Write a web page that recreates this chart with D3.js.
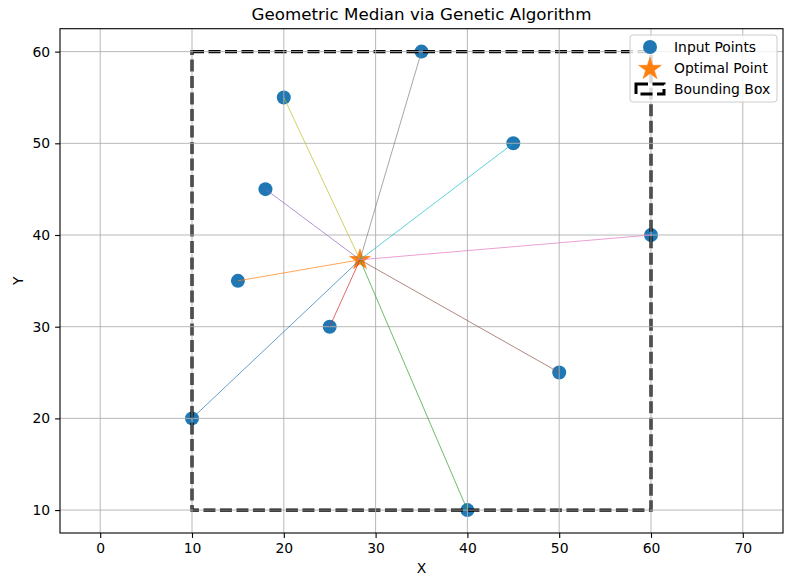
<!DOCTYPE html>
<html>
<head>
<meta charset="utf-8">
<script src="https://cdn.jsdelivr.net/npm/d3@7"></script>
<style>
body{margin:0;background:#fff;}
text{font-family:"DejaVu Sans",sans-serif;fill:#000;}
</style>
</head>
<body>
<svg id="chart" width="790" height="586"></svg>
<script>
const pointsX = [10, 15, 40, 25, 18, 50, 60, 35, 20, 45];
const pointsY = [20, 35, 10, 30, 45, 25, 40, 60, 55, 50];
const optimalX = 28.3;
const optimalY = 37.3;
const boxX = [10, 60];
const boxY = [10, 60];
const xTicks = [0, 10, 20, 30, 40, 50, 60, 70];
const yTicks = [10, 20, 30, 40, 50, 60];
const lineColors = ["#1f77b4","#ff7f0e","#2ca02c","#d62728","#9467bd","#8c564b","#e377c2","#7f7f7f","#bcbd22","#17becf"];
const legendLabels = ["Input Points", "Optimal Point", "Bounding Box"];
const titleText = "Geometric Median via Genetic Algorithm";

const svg = d3.select("#chart");
const L = 60, R = 783, T = 28.7, B = 533;
const x = d3.scaleLinear().domain([-4.38, 74.38]).range([L, R]);
const y = d3.scaleLinear().domain([7.5, 62.5]).range([B, T]);

function starPath(r) {
  const ri = r * 0.382;
  let p = [];
  for (let i = 0; i < 10; i++) {
    const a = -Math.PI / 2 + i * Math.PI / 5;
    const rr = i % 2 === 0 ? r : ri;
    p.push([rr * Math.cos(a), rr * Math.sin(a)]);
  }
  return "M" + p.map(d => d[0].toFixed(2) + "," + d[1].toFixed(2)).join("L") + "Z";
}

svg.append("defs").append("clipPath").attr("id", "clip")
  .append("rect").attr("x", L).attr("y", T).attr("width", R - L).attr("height", B - T);

const plot = svg.append("g").attr("clip-path", "url(#clip)");

// scatter input points
plot.selectAll("circle.pt").data(pointsX).enter().append("circle")
  .attr("cx", d => x(d)).attr("cy", (d, i) => y(pointsY[i]))
  .attr("r", 7).attr("fill", "#1f77b4");

// optimal star
plot.append("path").attr("d", starPath(11))
  .attr("transform", `translate(${x(optimalX)},${y(optimalY)})`)
  .attr("fill", "#ff7f0e").attr("stroke", "#ff7f0e").attr("stroke-width", 0.5);

// bounding box
plot.append("rect")
  .attr("x", x(boxX[0])).attr("y", y(boxY[1]))
  .attr("width", x(boxX[1]) - x(boxX[0])).attr("height", y(boxY[0]) - y(boxY[1]))
  .attr("fill", "none").attr("stroke", "#000").attr("stroke-width", 3.2)
  .attr("stroke-dasharray", "12,4.5");

// grid
const grid = plot.append("g");
xTicks.forEach(t => grid.append("line").attr("x1", x(t)).attr("x2", x(t)).attr("y1", T).attr("y2", B)
  .attr("stroke", "#b0b0b0").attr("stroke-width", 0.9));
yTicks.forEach(t => grid.append("line").attr("x1", L).attr("x2", R).attr("y1", y(t)).attr("y2", y(t))
  .attr("stroke", "#b0b0b0").attr("stroke-width", 0.9));

// lines to optimal
plot.selectAll("line.conn").data(pointsX).enter().append("line")
  .attr("x1", d => x(d)).attr("y1", (d, i) => y(pointsY[i]))
  .attr("x2", x(optimalX)).attr("y2", y(optimalY))
  .attr("stroke", (d, i) => lineColors[i]).attr("stroke-width", 0.7);

// axes
const xAxis = svg.append("g").attr("transform", `translate(0,${B})`)
  .call(d3.axisBottom(x).tickValues(xTicks).tickSize(4.9).tickPadding(4.9).tickFormat(d3.format("d")));
const yAxis = svg.append("g").attr("transform", `translate(${L},0)`)
  .call(d3.axisLeft(y).tickValues(yTicks).tickSize(4.9).tickPadding(4.9).tickFormat(d3.format("d")));
[xAxis, yAxis].forEach(a => {
  a.select(".domain").remove();
  a.selectAll("line").attr("stroke", "#000").attr("stroke-width", 1.1);
  a.selectAll("text").style("font-family", "DejaVu Sans").style("font-size", "13.9px").attr("fill", "#000");
});

// frame
svg.append("rect").attr("x", L).attr("y", T).attr("width", R - L).attr("height", B - T)
  .attr("fill", "none").attr("stroke", "#000").attr("stroke-width", 1.1);

// title and labels
svg.append("text").attr("x", (L + R) / 2).attr("y", 20).attr("text-anchor", "middle")
  .style("font-size", "16.7px").text(titleText);
svg.append("text").attr("x", (L + R) / 2).attr("y", 573).attr("text-anchor", "middle")
  .style("font-size", "13.9px").text("X");
svg.append("text").attr("transform", `translate(23,${(T + B) / 2}) rotate(-90)`).attr("text-anchor", "middle")
  .style("font-size", "13.9px").text("Y");

// legend
const lg = svg.append("g");
lg.append("rect").attr("x", 630).attr("y", 35).attr("width", 147).attr("height", 67).attr("rx", 3)
  .attr("fill", "#fff").attr("fill-opacity", 0.8).attr("stroke", "#cccccc").attr("stroke-width", 1);
const ly = [47, 68, 89];
lg.append("circle").attr("cx", 650).attr("cy", ly[0]).attr("r", 7).attr("fill", "#1f77b4");
lg.append("path").attr("d", starPath(12)).attr("transform", `translate(650,${ly[1] + 1})`)
  .attr("fill", "#ff7f0e").attr("stroke", "#ff7f0e").attr("stroke-width", 0.5);
lg.append("rect").attr("x", 636).attr("y", ly[2] - 5).attr("width", 28).attr("height", 10)
  .attr("fill", "none").attr("stroke", "#000").attr("stroke-width", 3).attr("stroke-dasharray", "12,4.5");
legendLabels.forEach((t, i) => lg.append("text").attr("x", 674).attr("y", ly[i] + 5)
  .style("font-size", "13.9px").text(t));
</script>
</body>
</html>
